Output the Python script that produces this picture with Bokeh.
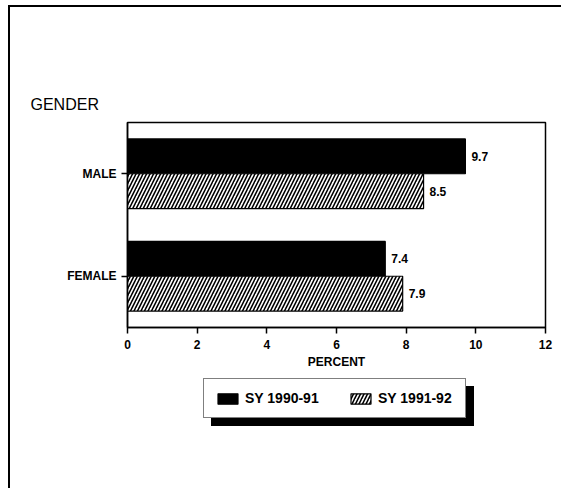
from bokeh.plotting import figure
from bokeh.layouts import column
from bokeh.models import (FactorRange, Range1d, FixedTicker, Legend, LegendItem,
                          ColumnDataSource, Title)
from bokeh.transform import dodge
from bokeh.core.properties import value
from bokeh.embed import file_html
from bokeh.resources import INLINE

# ---- data ----
genders = ["FEMALE", "MALE"]
sy_1990_91 = [7.4, 9.7]
sy_1991_92 = [7.9, 8.5]
series_names = ["SY 1990-91", "SY 1991-92"]
x_ticks = [0, 2, 4, 6, 8, 10, 12]

FONT = "Liberation Sans"

src = ColumnDataSource(dict(
    g=genders,
    a=sy_1990_91,
    b=sy_1991_92,
    al=[f"{v:.1f}" for v in sy_1990_91],
    bl=[f"{v:.1f}" for v in sy_1991_92],
))

BLACK_BAR = dict(fill_color="black", line_color="black", line_width=1.2)
HATCH_BAR = dict(fill_color="white", line_color="black", line_width=1.2,
                 hatch_pattern="/", hatch_color="black", hatch_scale=7, hatch_weight=1.6)

p = figure(width=551, height=370, output_backend="svg", toolbar_location=None,
           y_range=FactorRange(*genders), x_range=Range1d(0, 12),
           min_border_left=117, min_border_right=16,
           min_border_top=115, min_border_bottom=50)

bw = 0.34
p.hbar(y=dodge("g", bw / 2, range=p.y_range), right="a", left=0, height=bw,
       source=src, **BLACK_BAR)
p.hbar(y=dodge("g", -bw / 2, range=p.y_range), right="b", left=0, height=bw,
       source=src, **HATCH_BAR)

p.text(x="a", y=dodge("g", bw / 2, range=p.y_range), text="al", source=src,
       x_offset=6, text_baseline="middle", text_font=value(FONT),
       text_font_size="12px", text_font_style="bold", text_color="black")
p.text(x="b", y=dodge("g", -bw / 2, range=p.y_range), text="bl", source=src,
       x_offset=6, text_baseline="middle", text_font=value(FONT),
       text_font_size="12px", text_font_style="bold", text_color="black")

# styling
p.grid.visible = False
p.outline_line_color = "black"
p.outline_line_width = 1.5

p.xaxis.ticker = FixedTicker(ticks=x_ticks)
p.xaxis.axis_label = "PERCENT"
p.xaxis.axis_label_standoff = 3
p.xaxis.axis_label_text_font = FONT
p.xaxis.axis_label_text_font_style = "bold"
p.xaxis.axis_label_text_font_size = "12px"
p.xaxis.axis_label_text_color = "black"
p.xaxis.minor_tick_line_color = None

for ax in (p.xaxis, p.yaxis):
    ax.axis_line_color = "black"
    ax.axis_line_width = 1.5
    ax.major_tick_line_color = "black"
    ax.major_tick_line_width = 1.5
    ax.major_tick_in = 0
    ax.major_tick_out = 6
    ax.major_label_text_font = FONT
    ax.major_label_text_font_style = "bold"
    ax.major_label_text_font_size = "12px"
    ax.major_label_text_color = "black"
p.xaxis.major_label_standoff = 6
p.yaxis.major_label_standoff = 5

p.add_layout(Title(text="GENDER", align="left", offset=-97, standoff=19,
                   text_font=FONT, text_font_style="normal",
                   text_font_size="16px", text_color="black"), "above")

# ---- legend panel ----
LH = 111
q = figure(width=551, height=LH, output_backend="svg", toolbar_location=None,
           x_range=Range1d(0, 1), y_range=Range1d(0, 1),
           x_axis_location=None, y_axis_location=None,
           min_border=0, min_border_left=0, min_border_right=0,
           min_border_top=0, min_border_bottom=0)
q.grid.visible = False
q.outline_line_color = None

# off-screen key renderers (only used to draw the legend swatches)
k1 = q.hbar(y=[-10], right=[1], left=0, height=0.1, **BLACK_BAR)
k2 = q.hbar(y=[-10], right=[1], left=0, height=0.1, **HATCH_BAR)
s1 = q.hbar(y=[-10], right=[1], left=0, height=0.1, fill_color="black", line_color="black")
s2 = q.hbar(y=[-10], right=[1], left=0, height=0.1, fill_color="black", line_color="black")

LEG_H = 38
leg_kw = dict(orientation="horizontal", glyph_width=25, glyph_height=13,
              label_height=16, label_width=76, label_standoff=5, spacing=27,
              padding=11, margin=0,
              label_text_font=FONT, label_text_font_style="bold",
              label_text_font_size="14px", border_line_color="black",
              border_line_width=1.5, background_fill_alpha=1.0)
# drop shadow: same-size legend with blank labels, solid black
shadow = Legend(items=[LegendItem(label=" ", renderers=[s1]),
                       LegendItem(label=" ", renderers=[s2])],
                location=(84, LH - 11 - LEG_H), background_fill_color="black",
                label_text_color="black", **leg_kw)
legend = Legend(items=[LegendItem(label=series_names[0], renderers=[k1]),
                       LegendItem(label=series_names[1], renderers=[k2])],
                location=(76, LH - 3 - LEG_H), background_fill_color="white",
                label_text_color="black", **leg_kw)
q.add_layout(shadow, "center")
q.add_layout(legend, "center")

layout = column(p, q, spacing=0)
layout.styles = {"border-top": "2px solid black", "border-left": "2px solid black",
                 "margin-left": "8px", "margin-top": "5px"}

open("out.html", "w").write(file_html(layout, INLINE))
